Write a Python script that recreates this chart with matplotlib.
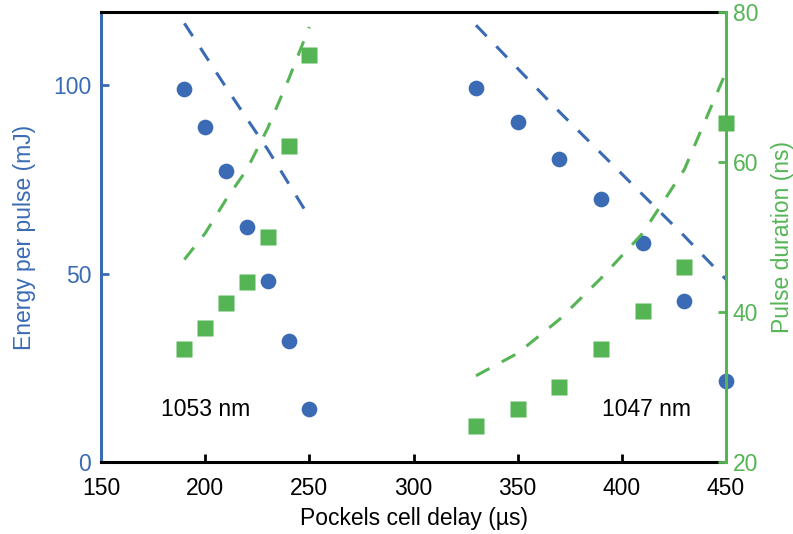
import matplotlib
matplotlib.use("Agg")
import matplotlib.pyplot as plt

plt.rcParams['font.family'] = ['Liberation Sans', 'DejaVu Sans']

BLUE = '#3A6BB4'
GREEN = '#55B555'

# 1053 nm data
x1053 = [190, 200, 210, 220, 230, 240, 250]
energy1053 = [99, 89, 77.2, 62.3, 48, 32.1, 14.1]
dur1053 = [35.1, 37.9, 41.2, 44, 50, 62.1, 74.3]
energy1053_fit = [116.5, 108, 99.5, 91.2, 83, 74, 65]
dur1053_fit = [47, 50.5, 55, 59, 64.5, 71, 78]

# 1047 nm data
x1047 = [330, 350, 370, 390, 410, 430, 450]
energy1047 = [99.2, 90.4, 80.4, 69.8, 58.1, 42.7, 21.5]
dur1047 = [24.8, 27.1, 30, 35.1, 40.1, 46, 65.2]
energy1047_fit = [116, 104.5, 93, 82, 71, 60, 48.5]
dur1047_fit = [31.5, 34.5, 39, 44.5, 50.5, 59, 72]

xticks = [150, 200, 250, 300, 350, 400, 450]
yticks_left = [0, 50, 100]
yticks_right = [20, 40, 60, 80]

fig = plt.figure(figsize=(7.93, 5.34), dpi=100)
ax = fig.add_axes([0.1274, 0.1348, 0.7881, 0.8427])
ax2 = ax.twinx()

fs = 16.5
lw_d = 2.2
dash = (5.0, 4.6)

for xs, e, ef in [(x1053, energy1053, energy1053_fit), (x1047, energy1047, energy1047_fit)]:
    ax.plot(xs, ef, color=BLUE, lw=lw_d, dashes=dash, zorder=2)
    ax.plot(xs, e, 'o', color=BLUE, ms=11.3, mec='none', zorder=3, clip_on=False)
for xs, d, df in [(x1053, dur1053, dur1053_fit), (x1047, dur1047, dur1047_fit)]:
    ax2.plot(xs, df, color=GREEN, lw=lw_d, dashes=dash, zorder=2)
    ax2.plot(xs, d, 's', color=GREEN, ms=11.3, mec='none', zorder=3, clip_on=False)

ax.set_xlim(150, 450)
ax.set_ylim(0, 119.5)
ax2.set_ylim(20, 80)
ax.set_xticks(xticks)
ax.set_yticks(yticks_left)
ax2.set_yticks(yticks_right)

ax.text(200, 14, '1053 nm', fontsize=fs, ha='center', va='center')
ax.text(412, 14, '1047 nm', fontsize=fs, ha='center', va='center')

ax.set_xlabel('Pockels cell delay (µs)', fontsize=fs, labelpad=5)
ax.set_ylabel('Energy per pulse (mJ)', fontsize=fs, color=BLUE, labelpad=12)
ax2.set_ylabel('Pulse duration (ns)', fontsize=fs, color=GREEN, labelpad=9)

for a in (ax, ax2):
    for s in a.spines.values():
        s.set_linewidth(2.2)
ax.spines['left'].set_color(BLUE)
ax2.spines['left'].set_visible(False)
ax.spines['right'].set_visible(False)
ax2.spines['right'].set_color(GREEN)
ax2.spines['top'].set_visible(False)
ax2.spines['bottom'].set_visible(False)

ax.tick_params(axis='x', direction='in', length=6, width=2, labelsize=fs, pad=11, colors='black')
ax.tick_params(axis='y', direction='in', length=6, width=2, labelsize=fs, colors=BLUE, pad=7)
ax2.tick_params(axis='y', direction='in', length=6, width=2, labelsize=fs, colors=GREEN, pad=5)

fig.savefig('out.png', dpi=100)
